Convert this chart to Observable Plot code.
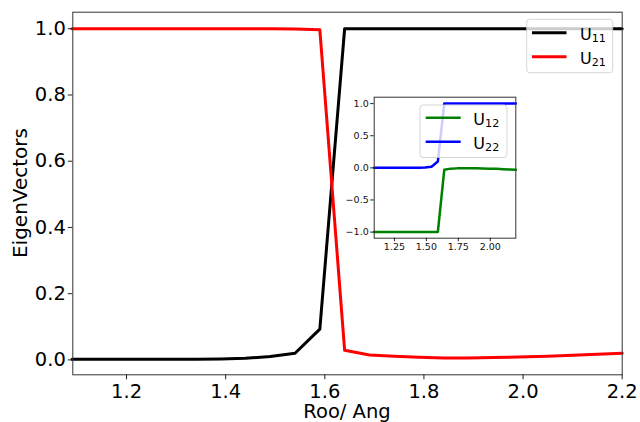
<!DOCTYPE html>
<html><head><meta charset="utf-8">
<script src="https://cdn.jsdelivr.net/npm/d3@7"></script>
<script src="https://cdn.jsdelivr.net/npm/@observablehq/plot@0.6"></script>
<style>
html,body{margin:0;padding:0;background:#fff;}
#wrap{position:relative;width:640px;height:422px;overflow:hidden;}
</style></head><body><div id="wrap"></div>
<script>
// ---- data ----
const roo = [1.09,1.14,1.19,1.24,1.29,1.34,1.39,1.44,1.49,1.54,1.59,1.64,1.69,1.74,1.79,1.84,1.89,1.94,1.99,2.05,2.10,2.15,2.20];
const u11 = [0.002,0.002,0.002,0.002,0.002,0.002,0.003,0.005,0.010,0.020,0.093,1.0,1.0,1.0,1.0,1.0,1.0,1.0,1.0,1.0,1.0,1.0,1.0];
const u21 = [1.0,1.0,1.0,1.0,1.0,1.0,1.0,1.0,1.0,0.999,0.997,0.029,0.015,0.011,0.008,0.006,0.006,0.007,0.009,0.011,0.014,0.017,0.020];
const u12 = [-1.0,-1.0,-1.0,-1.0,-1.0,-1.0,-1.0,-1.0,-1.0,-1.0,-0.997,-0.030,-0.012,-0.008,-0.007,-0.007,-0.008,-0.010,-0.012,-0.015,-0.020,-0.025,-0.030];
const u22 = [0.0,0.0,0.0,0.0,0.0,0.0,0.001,0.002,0.005,0.018,0.10,1.0,1.0,1.0,1.0,1.0,1.0,1.0,1.0,1.0,1.0,1.0,1.0];
const mainXTicks = [1.2,1.4,1.6,1.8,2.0,2.2];
const mainYTicks = [0.0,0.2,0.4,0.6,0.8,1.0];
const insetXTicks = [1.25,1.50,1.75,2.00];
const insetYTicks = [-1.0,-0.5,0.0,0.5,1.0];
const xLabel = "Roo/ Ang";
const yLabel = "EigenVectors";
const mainLegend = [{base:"U", sub:"11", key:"u11"}, {base:"U", sub:"21", key:"u21"}];
const insetLegend = [{base:"U", sub:"12", key:"u12"}, {base:"U", sub:"22", key:"u22"}];

const colors = {u11:"#000000", u21:"#ff0000", u12:"#008000", u22:"#0000ff"};
const rows = roo.map((r,i)=>({r, u11:u11[i], u21:u21[i], u12:u12[i], u22:u22[i]}));
const FONT = "DejaVu Sans";

// ---- main plot ----
const mL=72.3, mR=18.3, mT=11.7, mB=47.7;
const main = Plot.plot({
  width:640, height:422,
  marginLeft:mL, marginRight:mR, marginTop:mT, marginBottom:mB,
  style:{fontFamily:FONT, fontSize:"19.5px", color:"black", background:"white", overflow:"visible"},
  x:{domain:[1.0916,2.2]},
  y:{domain:[-0.045,1.05]},
  marks:[
    Plot.line(rows,{x:"r", y:"u11", stroke:colors.u11, strokeWidth:3}),
    Plot.line(rows,{x:"r", y:"u21", stroke:colors.u21, strokeWidth:3}),
    Plot.frame({stroke:"#333", strokeWidth:1}),
    Plot.axisX({ticks:mainXTicks, tickFormat:d3.format(".1f"), tickSize:5, tickPadding:4.5, label:null, fontSize:19.5, stroke:"#222"}),
    Plot.axisY({ticks:mainYTicks, tickFormat:d3.format(".1f"), tickSize:4.5, tickPadding:2.5, label:null, fontSize:19.5, stroke:"#222"})
  ]
});
document.getElementById("wrap").appendChild(main);
const svg = d3.select(main);

// axis labels
svg.append("text").attr("x", mL + (640-mL-mR)/2).attr("y", 418)
  .attr("text-anchor","middle").attr("font-family",FONT).attr("font-size",19.5).attr("fill","black").text(xLabel);
svg.append("text").attr("transform", `translate(26.5,${mT + (422-mT-mB)/2}) rotate(-90)`)
  .attr("text-anchor","middle").attr("font-family",FONT).attr("font-size",20).attr("fill","black").text(yLabel);

// ---- inset plot (nested svg) ----
const iPosX=333, iPosY=95;
const iL=40.7, iT=1.7, iW=141.6, iH=141, iR=4.7, iB=22.3;
const insetW = iL+iW+iR, insetH = iT+iH+iB;
const inset = Plot.plot({
  width: insetW, height: insetH,
  marginLeft:iL, marginRight:iR, marginTop:iT, marginBottom:iB,
  style:{fontFamily:FONT, fontSize:"9px", color:"#111", overflow:"visible"},
  x:{domain:[1.0916,2.2]},
  y:{domain:[-1.095,1.1]},
  marks:[
    Plot.frame({fill:"white", stroke:"none"}),
    Plot.line(rows,{x:"r", y:"u12", stroke:colors.u12, strokeWidth:2.5}),
    Plot.line(rows,{x:"r", y:"u22", stroke:colors.u22, strokeWidth:2.5}),
    Plot.frame({stroke:"#333", strokeWidth:1}),
    Plot.axisX({ticks:insetXTicks, tickFormat:d3.format(".2f"), tickSize:3.5, tickPadding:2, label:null, fontSize:9.5, stroke:"#222"}),
    Plot.axisY({ticks:insetYTicks, tickFormat:d3.format(".1f"), tickSize:3.5, tickPadding:2, label:null, fontSize:9.5, stroke:"#222"})
  ]
});
inset.setAttribute("x", iPosX);
inset.setAttribute("y", iPosY);
inset.style.width = insetW + "px";
inset.style.height = insetH + "px";
inset.style.maxWidth = "none";
main.appendChild(inset);

// ---- legends ----
function addLegend(box, entries, fs, lineW, lx0, lx1, tx, ys) {
  const g = svg.append("g").attr("text-anchor","start");
  g.append("rect").attr("x",box[0]).attr("y",box[1]).attr("width",box[2]).attr("height",box[3])
    .attr("rx",3).attr("fill","white").attr("fill-opacity",0.8)
    .attr("stroke","#cccccc").attr("stroke-opacity",0.8).attr("stroke-width",1);
  entries.forEach((e,i)=>{
    const y = ys[i];
    g.append("line").attr("x1",lx0).attr("x2",lx1).attr("y1",y).attr("y2",y)
      .attr("stroke",colors[e.key]).attr("stroke-width",lineW);
    const t = g.append("text").attr("x",tx).attr("y",y+7.5).attr("text-anchor","start")
      .attr("font-family",FONT).attr("font-size",fs).attr("fill","black");
    t.append("tspan").text(e.base);
    t.append("tspan").attr("font-size",fs*0.7).attr("dy",2).text(e.sub);
  });
}
addLegend([526.7,19.3,86,53.4], mainLegend, 16, 3, 532, 566.5, 580, [32.7,56.7]);
addLegend([420,105,87,52.5], insetLegend, 16, 2.5, 425.7, 460.7, 473.3, [117.7,141.7]);
</script>
</body></html>
